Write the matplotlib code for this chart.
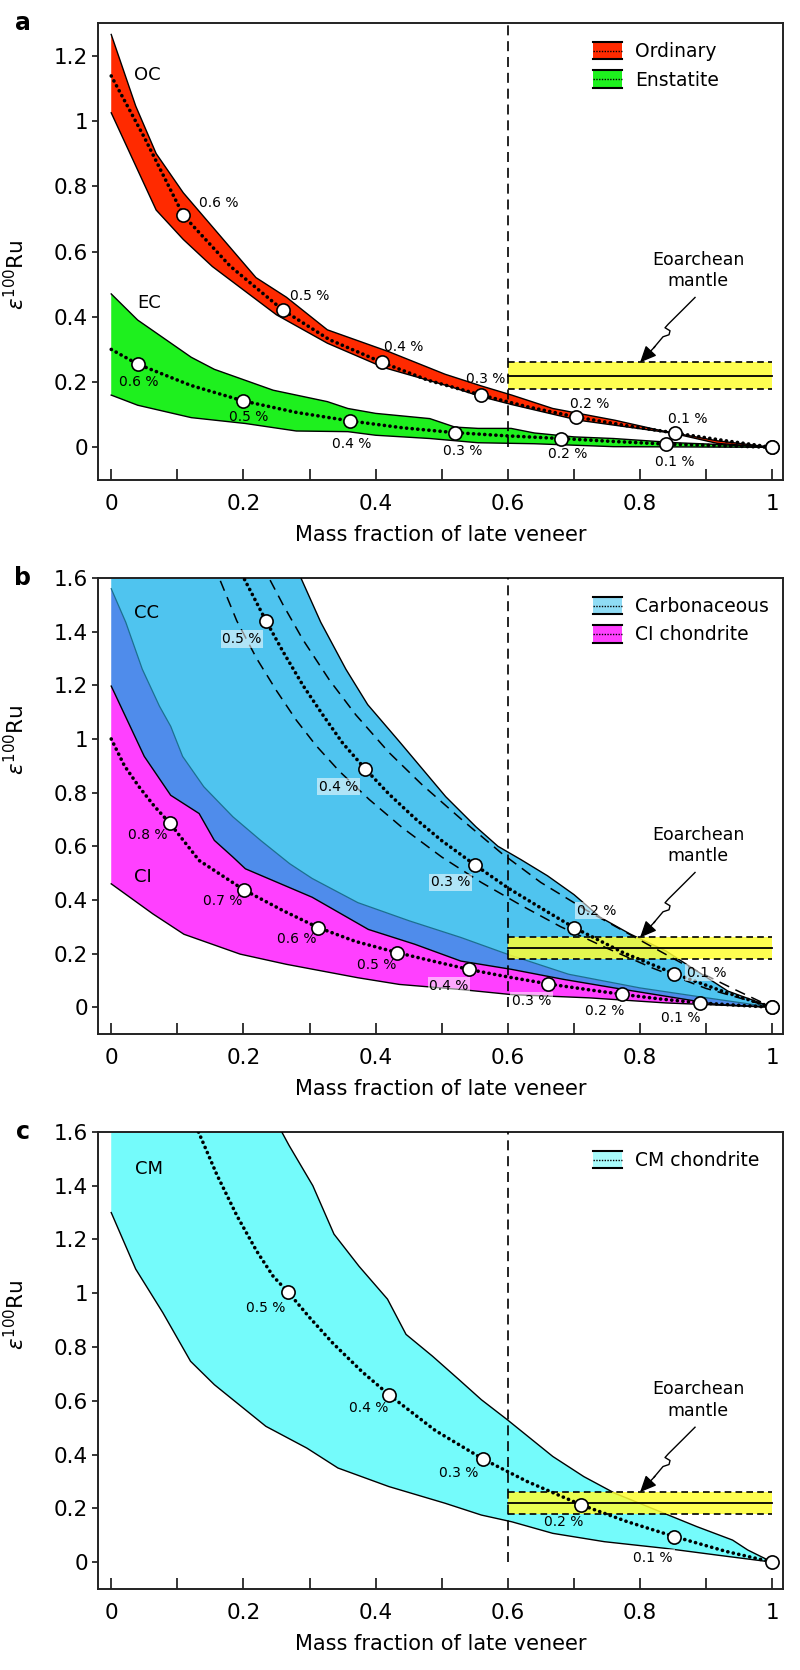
import numpy as np
import matplotlib
matplotlib.use('Agg')
import matplotlib.pyplot as plt
import matplotlib.transforms as transforms
from matplotlib.patches import Patch, Rectangle
from matplotlib.lines import Line2D
from matplotlib.legend_handler import HandlerBase
from matplotlib.ticker import FuncFormatter

plt.rcParams['font.family'] = ['DejaVu Sans']

# ---------------- panel a: ordinary (OC) and enstatite (EC) ----------------
oc_up_x = [0, 0.037, 0.068, 0.109, 0.219, 0.265, 0.327, 0.42, 0.505, 0.56, 0.606, 0.668, 0.707, 0.762, 0.83, 0.917, 1.0]
oc_up_y = [1.265, 1.046, 0.90, 0.78, 0.52, 0.46, 0.36, 0.293, 0.224, 0.188, 0.16, 0.119, 0.104, 0.083, 0.052, 0.02, 0]
oc_lo_x = [0, 0.068, 0.109, 0.153, 0.25, 0.327, 0.413, 0.513, 0.56, 0.606, 0.707, 0.85, 0.917, 1.0]
oc_lo_y = [1.025, 0.727, 0.637, 0.554, 0.406, 0.319, 0.244, 0.186, 0.155, 0.131, 0.083, 0.043, 0.012, 0]
oc_mid_x = [0, 0.05, 0.109, 0.18, 0.26, 0.33, 0.41, 0.48, 0.56, 0.63, 0.703, 0.78, 0.853, 0.93, 1.0]
oc_mid_y = [1.138, 0.95, 0.711, 0.555, 0.42, 0.33, 0.26, 0.205, 0.16, 0.124, 0.093, 0.066, 0.044, 0.02, 0]
oc_pt_x = [0.109, 0.26, 0.41, 0.56, 0.703, 0.853]
oc_pt_y = [0.711, 0.42, 0.26, 0.16, 0.093, 0.044]
oc_lab = ['0.6 %', '0.5 %', '0.4 %', '0.3 %', '0.2 %', '0.1 %']
oc_lab_x = [0.163, 0.301, 0.443, 0.566, 0.724, 0.872]
oc_lab_y = [0.748, 0.465, 0.306, 0.209, 0.134, 0.086]

ec_up_x = [0, 0.04, 0.121, 0.156, 0.245, 0.327, 0.358, 0.4, 0.482, 0.52, 0.555, 0.605, 0.64, 0.70, 0.76, 0.855, 0.915, 1.0]
ec_up_y = [0.47, 0.39, 0.276, 0.239, 0.175, 0.14, 0.119, 0.104, 0.088, 0.062, 0.058, 0.058, 0.044, 0.032, 0.027, 0.014, 0.009, 0]
ec_lo_x = [0, 0.04, 0.121, 0.203, 0.28, 0.358, 0.40, 0.482, 0.555, 0.64, 0.76, 1.0]
ec_lo_y = [0.16, 0.129, 0.091, 0.073, 0.05, 0.048, 0.037, 0.027, 0.014, 0.011, 0.002, 0]
ec_mid_x = [0, 0.04, 0.12, 0.2, 0.28, 0.361, 0.44, 0.52, 0.6, 0.68, 0.76, 0.839, 0.92, 1.0]
ec_mid_y = [0.30, 0.255, 0.19, 0.142, 0.107, 0.081, 0.06, 0.045, 0.035, 0.027, 0.018, 0.01, 0.005, 0]
ec_pt_x = [0.04, 0.2, 0.361, 0.52, 0.68, 0.839]
ec_pt_y = [0.255, 0.142, 0.081, 0.045, 0.027, 0.01]
ec_lab = ['0.6 %', '0.5 %', '0.4 %', '0.3 %', '0.2 %', '0.1 %']
ec_lab_x = [0.042, 0.208, 0.364, 0.531, 0.69, 0.853]
ec_lab_y = [0.201, 0.093, 0.011, -0.012, -0.02, -0.045]

# ---------------- panel b: carbonaceous (CC) and CI ----------------
cc_up_x = [0.27, 0.287, 0.317, 0.355, 0.388, 0.436, 0.506, 0.552, 0.585, 0.62, 0.66, 0.70, 0.74, 0.785, 0.839, 0.886, 0.933, 1.0]
cc_up_y = [1.68, 1.6, 1.435, 1.26, 1.128, 0.99, 0.785, 0.672, 0.60, 0.55, 0.49, 0.42, 0.335, 0.273, 0.21, 0.135, 0.06, 0]
cc_lo_x = [0, 0.022, 0.047, 0.073, 0.09, 0.108, 0.14, 0.184, 0.226, 0.27, 0.304, 0.373, 0.451, 0.529, 0.599, 0.692, 0.8, 0.901, 1.0]
cc_lo_y = [1.56, 1.435, 1.26, 1.122, 1.047, 0.935, 0.822, 0.71, 0.622, 0.535, 0.48, 0.39, 0.322, 0.26, 0.198, 0.123, 0.072, 0.035, 0]
cc_mid_x = [0.19, 0.234, 0.26, 0.29, 0.32, 0.35, 0.384, 0.42, 0.46, 0.5, 0.55, 0.6, 0.65, 0.7, 0.775, 0.852, 0.93, 1.0]
cc_mid_y = [1.65, 1.441, 1.325, 1.20, 1.09, 0.985, 0.889, 0.795, 0.703, 0.621, 0.531, 0.445, 0.37, 0.297, 0.203, 0.125, 0.055, 0]
cc_dl_x = [0.155, 0.19, 0.22, 0.25, 0.28, 0.31, 0.345, 0.39, 0.44, 0.5, 0.56, 0.62, 0.68, 0.75, 0.82, 0.9, 1.0]
cc_dl_y = [1.65, 1.44, 1.30, 1.18, 1.07, 0.975, 0.88, 0.775, 0.67, 0.56, 0.465, 0.38, 0.30, 0.22, 0.145, 0.07, 0]
cc_dr_x = [0.228, 0.26, 0.29, 0.33, 0.37, 0.42, 0.47, 0.53, 0.59, 0.65, 0.72, 0.8, 0.87, 0.94, 1.0]
cc_dr_y = [1.65, 1.50, 1.37, 1.22, 1.09, 0.95, 0.83, 0.70, 0.575, 0.465, 0.36, 0.25, 0.155, 0.07, 0]
cc_pt_x = [0.234, 0.384, 0.55, 0.7, 0.852]
cc_pt_y = [1.441, 0.889, 0.531, 0.297, 0.125]
cc_lab = ['0.5 %', '0.4 %', '0.3 %', '0.2 %', '0.1 %']
cc_lab_x = [0.198, 0.344, 0.513, 0.734, 0.901]
cc_lab_y = [1.372, 0.822, 0.466, 0.36, 0.129]

ci_up_x = [0, 0.05, 0.09, 0.133, 0.156, 0.184, 0.203, 0.304, 0.389, 0.459, 0.529, 0.606, 0.684, 0.761, 0.839, 0.917, 1.0]
ci_up_y = [1.197, 0.935, 0.79, 0.722, 0.622, 0.56, 0.516, 0.41, 0.29, 0.235, 0.172, 0.141, 0.104, 0.072, 0.041, 0.01, 0]
ci_lo_x = [0, 0.063, 0.11, 0.195, 0.265, 0.373, 0.436, 0.529, 0.606, 0.723, 0.839, 1.0]
ci_lo_y = [0.46, 0.348, 0.272, 0.198, 0.16, 0.11, 0.085, 0.066, 0.047, 0.035, 0.016, 0]
ci_mid_x = [0, 0.02, 0.042, 0.065, 0.089, 0.133, 0.201, 0.26, 0.313, 0.37, 0.432, 0.49, 0.541, 0.6, 0.661, 0.72, 0.773, 0.83, 0.891, 0.95, 1.0]
ci_mid_y = [1.0, 0.90, 0.822, 0.75, 0.685, 0.547, 0.437, 0.36, 0.297, 0.245, 0.204, 0.17, 0.141, 0.113, 0.087, 0.066, 0.048, 0.031, 0.016, 0.007, 0]
ci_pt_x = [0.089, 0.201, 0.313, 0.432, 0.541, 0.661, 0.773, 0.891]
ci_pt_y = [0.685, 0.437, 0.297, 0.204, 0.141, 0.087, 0.048, 0.016]
ci_lab = ['0.8 %', '0.7 %', '0.6 %', '0.5 %', '0.4 %', '0.3 %', '0.2 %', '0.1 %']
ci_lab_x = [0.055, 0.168, 0.28, 0.402, 0.511, 0.636, 0.746, 0.861]
ci_lab_y = [0.641, 0.395, 0.256, 0.156, 0.079, 0.025, -0.015, -0.04]
ci_lab_box = [False, False, False, False, True, True, False, False]

# ---------------- panel c: CM ----------------
cm_up_x = [0.245, 0.258, 0.269, 0.305, 0.337, 0.375, 0.418, 0.446, 0.486, 0.526, 0.56, 0.599, 0.668, 0.715, 0.762, 0.824, 0.886, 0.94, 0.963, 1.0]
cm_up_y = [1.68, 1.6, 1.55, 1.40, 1.22, 1.10, 0.978, 0.847, 0.766, 0.679, 0.604, 0.53, 0.393, 0.318, 0.256, 0.194, 0.132, 0.082, 0.045, 0]
cm_lo_x = [0, 0.037, 0.078, 0.12, 0.156, 0.234, 0.296, 0.343, 0.42, 0.505, 0.56, 0.606, 0.668, 0.746, 0.839, 0.917, 1.0]
cm_lo_y = [1.30, 1.09, 0.928, 0.747, 0.66, 0.505, 0.424, 0.35, 0.281, 0.219, 0.175, 0.15, 0.107, 0.076, 0.051, 0.026, 0]
cm_mid_x = [0.132, 0.16, 0.19, 0.22, 0.245, 0.268, 0.3, 0.335, 0.38, 0.42, 0.49, 0.562, 0.63, 0.711, 0.78, 0.852, 0.93, 1.0]
cm_mid_y = [1.6, 1.44, 1.289, 1.157, 1.063, 1.003, 0.91, 0.815, 0.707, 0.623, 0.49, 0.384, 0.299, 0.213, 0.151, 0.095, 0.04, 0]
cm_pt_x = [0.268, 0.42, 0.562, 0.711, 0.852]
cm_pt_y = [1.003, 0.623, 0.384, 0.213, 0.095]
cm_lab = ['0.5 %', '0.4 %', '0.3 %', '0.2 %', '0.1 %']
cm_lab_x = [0.234, 0.389, 0.526, 0.684, 0.82]
cm_lab_y = [0.946, 0.573, 0.333, 0.15, 0.016]

# Eoarchean mantle band
mantle_x = [0.6, 1.0]
mantle_lo, mantle_mid, mantle_hi = 0.18, 0.22, 0.26
band_top = 1.7  # band continues above the plotted range

RED = '#ff2a00'
GREEN = '#1ef01e'
YELLOW = '#ffff33'
CC_BLUE = '#4fc4ef'
DARK_BLUE = '#4f8ceb'
MAGENTA = '#ff40ff'
CYAN = '#74fbfb'


class BandHandler(HandlerBase):
    def create_artists(self, legend, orig_handle, xdescent, ydescent, width, height, fontsize, trans):
        x0, y0 = -xdescent, -ydescent
        rect = Rectangle((x0, y0), width, height, facecolor=orig_handle.get_facecolor(),
                         edgecolor='none', transform=trans)
        top = Line2D([x0, x0 + width], [y0 + height] * 2, color='black', lw=1.5, transform=trans)
        bot = Line2D([x0, x0 + width], [y0] * 2, color='black', lw=1.5, transform=trans)
        mid = Line2D([x0, x0 + width], [y0 + height / 2] * 2, color='black', lw=1,
                     linestyle=(0, (1, 1)), transform=trans)
        return [rect, top, bot, mid]


def band(ax, up_x, up_y, lo_x, lo_y, color, top=None, edge=True):
    px = list(up_x) + list(lo_x[::-1])
    py = list(up_y) + list(lo_y[::-1])
    if top is not None:
        px = [0] + px
        py = [top] + py
    ax.fill(px, py, color=color, lw=0, zorder=2)
    if edge:
        ax.plot(up_x, up_y, color='black', lw=1, zorder=3)
        ax.plot(lo_x, lo_y, color='black', lw=1, zorder=3)


def dotted(ax, x, y):
    ax.plot(x, y, color='black', lw=2.6, linestyle=(0, (0.05, 1.5)), dash_capstyle='round', zorder=5)


def points(ax, x, y):
    ax.plot(list(x) + [1.0], list(y) + [0.0], 'o', ms=9.5, mfc='white', mec='black', mew=1.2, zorder=6)


def labels(ax, texts, xs, ys, boxes=None):
    for i, (t, x, y) in enumerate(zip(texts, xs, ys)):
        kw = {}
        if boxes is not None and boxes[i]:
            kw['bbox'] = dict(boxstyle='square,pad=0.12', fc='white', ec='none', alpha=0.55)
        ax.text(x, y, t, fontsize=10, ha='center', va='center', zorder=7, **kw)


def mantle(ax, ylo):
    ax.fill_between(mantle_x, mantle_lo, mantle_hi, color=YELLOW, alpha=0.85, lw=0, zorder=4)
    ax.plot(mantle_x, [mantle_mid] * 2, color='black', lw=1.3, zorder=4.5)
    ax.plot(mantle_x, [mantle_lo] * 2, color='black', lw=1.2, linestyle=(0, (4, 2.5)), zorder=4.5)
    ax.plot(mantle_x, [mantle_hi] * 2, color='black', lw=1.2, linestyle=(0, (4, 2.5)), zorder=4.5)

    # wavy arrow pointing at the top of the band (offsets in inches)
    fig = ax.figure
    trans = fig.dpi_scale_trans + transforms.ScaledTranslation(0.8, mantle_hi, ax.transData)
    wx = [0.55, 0.42, 0.283, 0.25, 0.30, 0.29, 0.23, 0.14]
    wy = [0.65, 0.52, 0.384, 0.347, 0.317, 0.277, 0.257, 0.15]
    ax.plot(wx, wy, color='black', lw=1, transform=trans, zorder=8, solid_joinstyle='round')
    ax.annotate('', xy=(0, 0), xycoords=trans, xytext=(0.15, 0.16), textcoords=trans,
                arrowprops=dict(arrowstyle='-|>,head_length=1.0,head_width=0.45', color='black', lw=1,
                                shrinkA=0, shrinkB=0), zorder=8)
    ax.text(0.58, 0.92, 'Eoarchean\nmantle', transform=trans, ha='center', va='center',
            fontsize=12.5, linespacing=1.25, zorder=8)

    ax.axvline(0.6, ymin=(0 - ylo[0]) / (ylo[1] - ylo[0]), color='black', lw=1.2,
               linestyle=(0, (6, 3.5)), zorder=4.6)


def style(ax, ylim, yticks, letter, ylab_y, handles):
    ax.set_xlim(-0.02, 1.016)
    ax.set_ylim(*ylim)
    ax.set_xticks([0, 0.2, 0.4, 0.6, 0.8, 1.0])
    ax.set_xticks([0.1, 0.3, 0.5, 0.7, 0.9], minor=True)
    ax.set_yticks(yticks)
    fmt = FuncFormatter(lambda v, _: f'{round(v, 2):g}')
    ax.xaxis.set_major_formatter(fmt)
    ax.yaxis.set_major_formatter(fmt)
    ax.tick_params(axis='x', which='both', direction='in', length=8, width=1.1, pad=10, labelsize=15.5)
    ax.tick_params(axis='y', direction='out', length=4, width=1.1, pad=3, labelsize=15.5)
    for s in ax.spines.values():
        s.set_linewidth(1.4)
        s.set_color('#222222')
    ax.set_xlabel('Mass fraction of late veneer', fontsize=15, labelpad=8)
    ax.set_ylabel(r'$\varepsilon^{100}$Ru', fontsize=15.5)
    ax.yaxis.set_label_coords(-0.102, ylab_y)
    ax.text(-0.11, 1.0, letter, transform=ax.transAxes, fontsize=17, fontweight='bold',
            ha='center', va='center')
    ax.legend(handles=handles, handler_map={Patch: BandHandler()}, loc='upper left',
              bbox_to_anchor=(0.712, 0.975), frameon=False, fontsize=13.5, handlelength=1.55,
              handleheight=1.05, handletextpad=0.7, labelspacing=0.5, borderaxespad=0)


fig = plt.figure(figsize=(8, 16.7), dpi=100)
ax_a = fig.add_axes([0.1225, 0.7126, 0.856, 0.2736])
ax_b = fig.add_axes([0.1225, 0.3808, 0.856, 0.2731])
ax_c = fig.add_axes([0.1225, 0.0485, 0.856, 0.2737])

# panel a
ax = ax_a
band(ax, oc_up_x, oc_up_y, oc_lo_x, oc_lo_y, RED)
band(ax, ec_up_x, ec_up_y, ec_lo_x, ec_lo_y, GREEN)
dotted(ax, oc_mid_x, oc_mid_y)
dotted(ax, ec_mid_x, ec_mid_y)
points(ax, oc_pt_x, oc_pt_y)
points(ax, ec_pt_x, ec_pt_y)
labels(ax, oc_lab, oc_lab_x, oc_lab_y)
labels(ax, ec_lab, ec_lab_x, ec_lab_y)
ax.text(0.055, 1.14, 'OC', fontsize=13, ha='center', va='center')
ax.text(0.057, 0.442, 'EC', fontsize=13, ha='center', va='center')
mantle(ax, (-0.1, 1.3))
style(ax, (-0.1, 1.3), [0, 0.2, 0.4, 0.6, 0.8, 1.0, 1.2], 'a', 0.45,
      [Patch(facecolor=RED, label='Ordinary'), Patch(facecolor=GREEN, label='Enstatite')])

# panel b
ax = ax_b
band(ax, cc_up_x, cc_up_y, cc_lo_x, cc_lo_y, CC_BLUE, top=band_top, edge=False)
ax.plot(cc_up_x, cc_up_y, color='black', lw=1, zorder=3)
ax.plot(cc_lo_x, cc_lo_y, color='#1a6f8f', lw=0.9, zorder=3)
band(ax, cc_lo_x, cc_lo_y, ci_up_x, ci_up_y, DARK_BLUE, edge=False)
band(ax, ci_up_x, ci_up_y, ci_lo_x, ci_lo_y, MAGENTA)
ax.plot(cc_dl_x, cc_dl_y, color='black', lw=1.1, linestyle=(0, (7, 4.5)), zorder=5)
ax.plot(cc_dr_x, cc_dr_y, color='black', lw=1.1, linestyle=(0, (7, 4.5)), zorder=5)
dotted(ax, cc_mid_x, cc_mid_y)
dotted(ax, ci_mid_x, ci_mid_y)
points(ax, cc_pt_x, cc_pt_y)
points(ax, ci_pt_x, ci_pt_y)
labels(ax, cc_lab, cc_lab_x, cc_lab_y, [True] * len(cc_lab))
labels(ax, ci_lab, ci_lab_x, ci_lab_y, ci_lab_box)
ax.text(0.054, 1.47, 'CC', fontsize=13, ha='center', va='center')
ax.text(0.048, 0.485, 'CI', fontsize=13, ha='center', va='center')
mantle(ax, (-0.1, 1.6))
style(ax, (-0.1, 1.6), [0, 0.2, 0.4, 0.6, 0.8, 1.0, 1.2, 1.4, 1.6], 'b', 0.645,
      [Patch(facecolor='#8fdcf5', label='Carbonaceous'), Patch(facecolor=MAGENTA, label='CI chondrite')])

# panel c
ax = ax_c
band(ax, cm_up_x, cm_up_y, cm_lo_x, cm_lo_y, CYAN, top=band_top)
dotted(ax, cm_mid_x, cm_mid_y)
points(ax, cm_pt_x, cm_pt_y)
labels(ax, cm_lab, cm_lab_x, cm_lab_y, [False, False, False, False, True])
ax.text(0.057, 1.463, 'CM', fontsize=13, ha='center', va='center')
mantle(ax, (-0.1, 1.6))
style(ax, (-0.1, 1.6), [0, 0.2, 0.4, 0.6, 0.8, 1.0, 1.2, 1.4, 1.6], 'c', 0.60,
      [Patch(facecolor='#a8fbfb', label='CM chondrite')])

fig.savefig('out.png', dpi=100)
